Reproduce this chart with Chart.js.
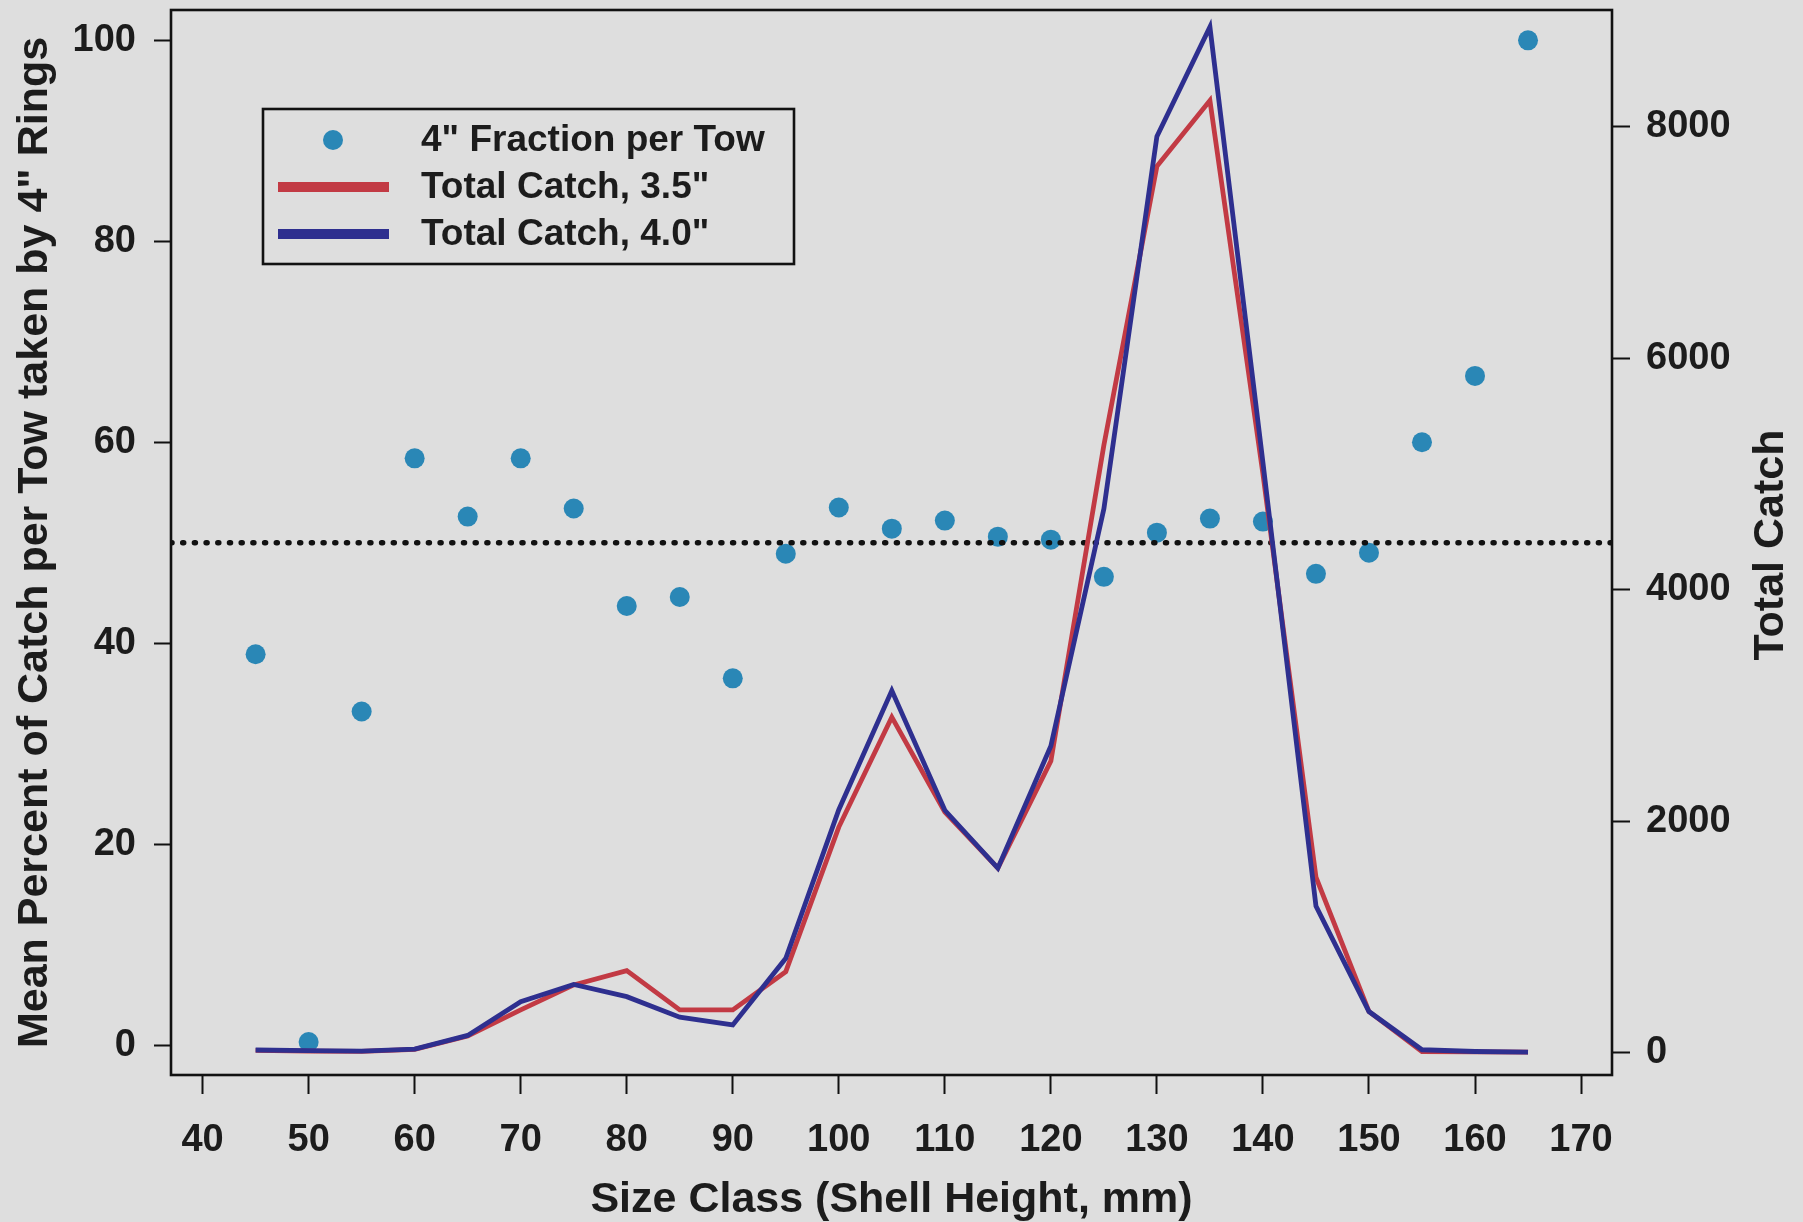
<!DOCTYPE html>
<html><head><meta charset="utf-8">
<script src="https://cdn.jsdelivr.net/npm/chart.js@4.4.1/dist/chart.umd.min.js"></script>
<style>
html,body{margin:0;padding:0;background:#dedede;}
#wrap{width:1803px;height:1222px;position:relative;}
canvas{display:block;}
</style>
</head><body>
<div id="wrap"><canvas id="c" width="1803" height="1222"></canvas></div>
<script>
// ---- data ----
const sizeClasses = [45,50,55,60,65,70,75,80,85,90,95,100,105,110,115,120,125,130,135,140,145,150,155,160,165];
const fraction4in = [38.9,0.3,33.2,58.4,52.6,58.4,53.4,43.7,44.6,36.5,48.9,53.5,51.4,52.2,50.6,50.3,46.6,51.0,52.4,52.1,46.9,49.0,60.0,66.6,100];
const catch35 = [20,15,12,30,145,370,586,710,371,371,701,1950,2900,2080,1595,2520,5250,7659,8227,5000,1517,356,11,8,6];
const catch40 = [24,18,15,32,150,442,590,485,307,241,816,2100,3129,2095,1595,2650,4700,7916,8863,5100,1267,356,26,11,6];
const xTickValues = [40,50,60,70,80,90,100,110,120,130,140,150,160,170];
const leftTickValues = [0,20,40,60,80,100];
const rightTickValues = [0,2000,4000,6000,8000];
const referenceLevel = 50;
const xRange = [37.02, 172.92];
const leftRange = [-2.98, 103.02];
const rightRange = [-192, 9009];

const labels = {
  frac: '4" Fraction per Tow',
  c35: 'Total Catch, 3.5"',
  c40: 'Total Catch, 4.0"',
  xTitle: 'Size Class (Shell Height, mm)',
  yTitle: 'Mean Percent of Catch per Tow taken by 4" Rings',
  y2Title: 'Total Catch'
};

const FONT = "'Liberation Sans', Arial, Helvetica, sans-serif";
const TEXT = '#1c1c1c';
const DOT = '#2A87B6';
const RED = '#C23A44';
const BLUE = '#2E2F8F';

const pts = (ys) => sizeClasses.map((x, i) => ({x: x, y: ys[i]}));

const setTicks = (vals) => (scale) => { scale.ticks = vals.map(v => ({value: v})); };
const fixSize = (prop, v) => (scale) => {
  scale[prop] = v;
  scale.paddingTop = 0; scale.paddingBottom = 0; scale.paddingLeft = 0; scale.paddingRight = 0;
};

const frame = {
  id: 'frame',
  afterDatasetsDraw(chart) {
    const {ctx, chartArea: a} = chart;
    ctx.save();
    ctx.strokeStyle = '#111';
    ctx.lineWidth = 2.6;
    ctx.strokeRect(a.left, a.top, a.right - a.left, a.bottom - a.top);
    ctx.restore();
  }
};

const legendBox = {
  id: 'legendBox',
  afterDraw(chart) {
    const ctx = chart.ctx;
    ctx.save();
    ctx.strokeStyle = '#111';
    ctx.lineWidth = 2.6;
    ctx.strokeRect(263, 109, 531, 155);
    ctx.fillStyle = DOT;
    ctx.beginPath(); ctx.arc(333, 140, 10, 0, Math.PI * 2); ctx.fill();
    ctx.lineWidth = 10; ctx.lineCap = 'butt';
    ctx.strokeStyle = RED;
    ctx.beginPath(); ctx.moveTo(278, 187); ctx.lineTo(389, 187); ctx.stroke();
    ctx.strokeStyle = BLUE;
    ctx.beginPath(); ctx.moveTo(278, 234); ctx.lineTo(389, 234); ctx.stroke();
    ctx.fillStyle = TEXT;
    ctx.font = 'bold 37px ' + FONT;
    ctx.textBaseline = 'middle';
    ctx.textAlign = 'left';
    const ds = chart.data.datasets;
    ctx.fillText(ds[0].label, 421, 141);
    ctx.fillText(ds[1].label, 421, 188);
    ctx.fillText(ds[2].label, 421, 235);
    ctx.font = 'bold 43px ' + FONT;
    ctx.textAlign = 'center';
    ctx.translate(1771, 545);
    ctx.rotate(-Math.PI / 2);
    ctx.fillText(labels.y2Title, 0, 0);
    ctx.restore();
  }
};

Chart.defaults.font.family = FONT;
Chart.defaults.font.weight = 'bold';
Chart.defaults.color = TEXT;

const plain = (v) => String(v);

new Chart(document.getElementById('c'), {
  type: 'scatter',
  data: {
    datasets: [
      {label: labels.frac, data: pts(fraction4in), yAxisID: 'y', backgroundColor: DOT, borderColor: DOT,
       pointRadius: 10, pointBorderWidth: 0, showLine: false, order: 3},
      {label: labels.c35, data: pts(catch35), yAxisID: 'y2', showLine: true, borderColor: RED, borderWidth: 4.8,
       pointRadius: 0, tension: 0, borderJoinStyle: 'miter', fill: false, order: 1},
      {label: labels.c40, data: pts(catch40), yAxisID: 'y2', showLine: true, borderColor: BLUE, borderWidth: 4.8,
       pointRadius: 0, tension: 0, borderJoinStyle: 'miter', fill: false, order: 0},
      {label: 'reference', data: [{x: xRange[0], y: referenceLevel}, {x: xRange[1], y: referenceLevel}], yAxisID: 'y',
       showLine: true, borderColor: '#111', borderWidth: 5.5, borderDash: [1, 10.7], borderCapStyle: 'round',
       pointRadius: 0, order: 2}
    ]
  },
  options: {
    responsive: false,
    animation: false,
    devicePixelRatio: 1,
    layout: {padding: {top: 8, left: 0, right: 0, bottom: 0}},
    plugins: {legend: {display: false}, tooltip: {enabled: false}},
    scales: {
      x: {
        type: 'linear', position: 'bottom', min: xRange[0], max: xRange[1],
        afterBuildTicks: setTicks(xTickValues),
        afterFit: fixSize('height', 147),
        grid: {drawOnChartArea: false, drawTicks: true, tickLength: 19, tickWidth: 2, tickColor: '#111'},
        border: {display: false},
        ticks: {font: {size: 38, weight: 'bold'}, padding: 24, maxRotation: 0, autoSkip: false, color: TEXT, callback: plain},
        title: {display: true, text: labels.xTitle, font: {size: 43, weight: 'bold', lineHeight: 1.0}, padding: {top: 0, bottom: 0}, color: TEXT}
      },
      y: {
        type: 'linear', position: 'left', min: leftRange[0], max: leftRange[1],
        afterBuildTicks: setTicks(leftTickValues),
        afterFit: fixSize('width', 171),
        grid: {drawOnChartArea: false, drawTicks: true, tickLength: 17, tickWidth: 2, tickColor: '#111'},
        border: {display: false},
        ticks: {font: {size: 38, weight: 'bold'}, padding: 18, autoSkip: false, color: TEXT, callback: plain},
        title: {display: true, text: labels.yTitle, font: {size: 43, weight: 'bold'}, padding: {top: 9, bottom: 0}, color: TEXT}
      },
      y2: {
        type: 'linear', position: 'right', min: rightRange[0], max: rightRange[1],
        afterBuildTicks: setTicks(rightTickValues),
        afterFit: fixSize('width', 191),
        grid: {drawOnChartArea: false, drawTicks: true, tickLength: 18, tickWidth: 2, tickColor: '#111'},
        border: {display: false},
        ticks: {font: {size: 38, weight: 'bold'}, padding: 16, autoSkip: false, color: TEXT, callback: plain},
        title: {display: false}
      }
    }
  },
  plugins: [frame, legendBox]
});
</script>
</body></html>
